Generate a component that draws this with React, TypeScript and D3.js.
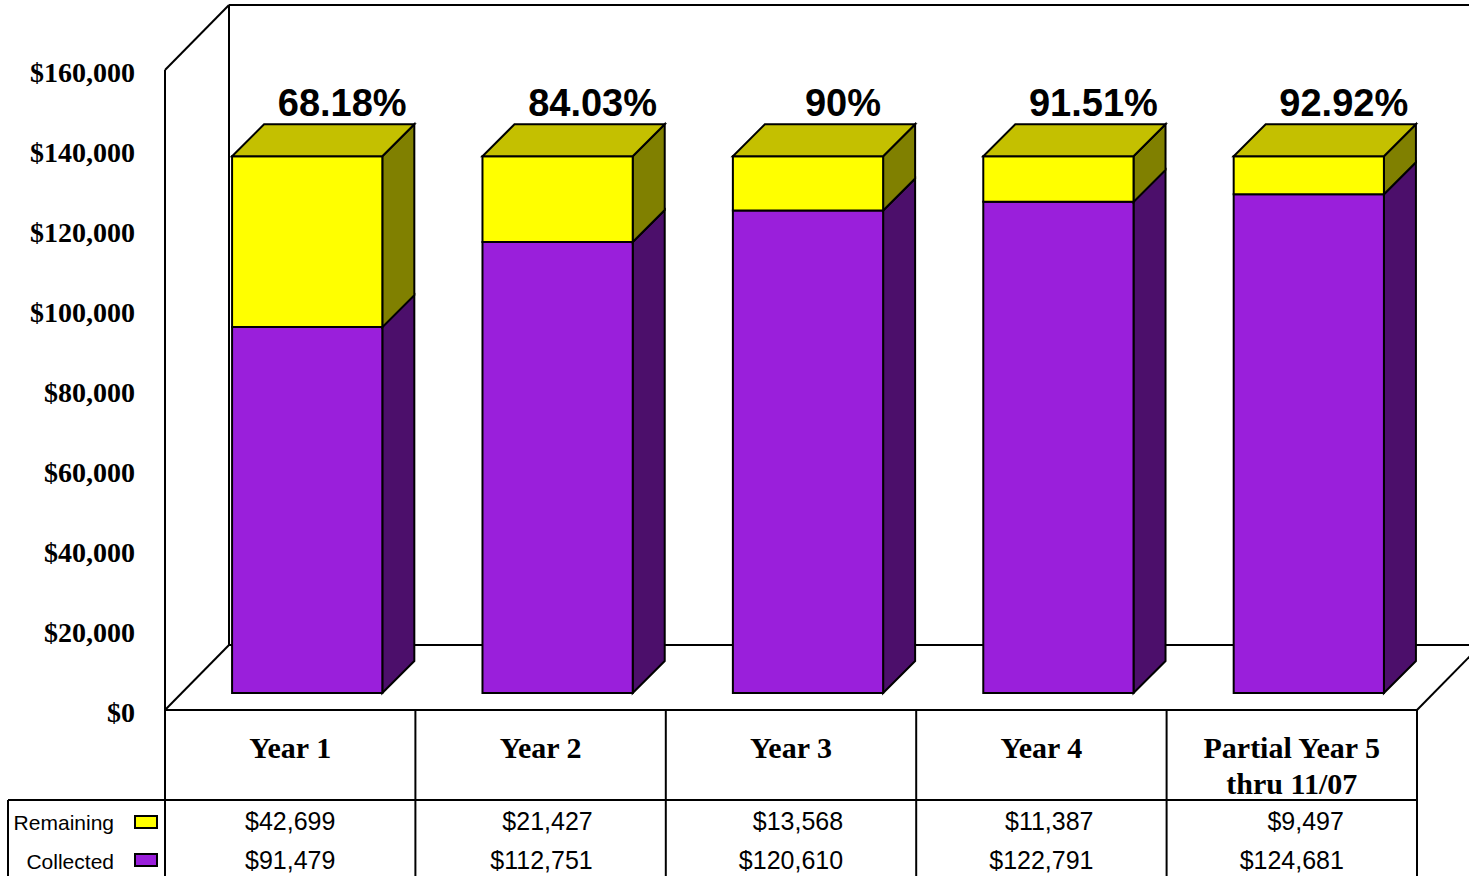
import React from "react";
import * as d3 from "d3";

const categories = ["Year 1", "Year 2", "Year 3", "Year 4", "Partial Year 5\nthru 11/07"];
const collected = [91479, 112751, 120610, 122791, 124681];
const remaining = [42699, 21427, 13568, 11387, 9497];
const pctLabels = ["68.18%", "84.03%", "90%", "91.51%", "92.92%"];
const yTicks = [0, 20000, 40000, 60000, 80000, 100000, 120000, 140000, 160000];
const seriesNames = ["Remaining", "Collected"];

const W = 1469;
const H = 876;
const X0 = 165;
const X1 = 1417;
const Y0 = 710;
const Y1 = 70;
const FLOOR_D = 64;
const BAR_D0 = 17;
const BAR_D1 = 49;

const COLORS = {
  Remaining: { front: "#FFFF00", top: "#C4C000", side: "#808000" },
  Collected: { front: "#9A1FDB", top: "#B060E0", side: "#4C0F6B" },
};

const serif = "'Liberation Serif', 'Times New Roman', serif";
const sans = "'Liberation Sans', Arial, sans-serif";

function estWidth(s: string, size: number) {
  let w = 0;
  for (const c of s) w += c === "," || c === "." ? 0.278 : 0.556;
  return w * size;
}

export default function App() {
  const y = d3.scaleLinear().domain([0, 160000]).range([Y0, Y1]);
  const xBar = d3
    .scaleBand<string>()
    .domain(categories)
    .range([X0, X1])
    .paddingInner(0.4)
    .paddingOuter(0.2);
  const xCol = d3.scaleBand<string>().domain(categories).range([X0, X1]).padding(0);
  const fmt = d3.format("$,.0f");

  const P = (x: number, v: number, d: number) => [x + d, y(v) - d] as [number, number];
  const poly = (pts: [number, number][]) => pts.map((p) => p.join(",")).join(" ");

  const bars: React.ReactNode[] = [];
  categories.forEach((c, i) => {
    const xl = xBar(c)!;
    const xr = xl + xBar.bandwidth();
    const segs = [
      { name: "Collected", v0: 0, v1: collected[i] },
      { name: "Remaining", v0: collected[i], v1: collected[i] + remaining[i] },
    ];
    segs.forEach((s, si) => {
      const col = (COLORS as any)[s.name];
      const front: [number, number][] = [
        P(xl, s.v0, BAR_D0),
        P(xr, s.v0, BAR_D0),
        P(xr, s.v1, BAR_D0),
        P(xl, s.v1, BAR_D0),
      ];
      const side: [number, number][] = [
        P(xr, s.v0, BAR_D0),
        P(xr, s.v0, BAR_D1),
        P(xr, s.v1, BAR_D1),
        P(xr, s.v1, BAR_D0),
      ];
      bars.push(
        <g key={`${i}-${si}`} stroke="#000" strokeWidth={2} strokeLinejoin="miter">
          <polygon points={poly(side)} fill={col.side} />
          <polygon points={poly(front)} fill={col.front} />
          {si === segs.length - 1 && (
            <polygon
              points={poly([
                P(xl, s.v1, BAR_D0),
                P(xr, s.v1, BAR_D0),
                P(xr, s.v1, BAR_D1),
                P(xl, s.v1, BAR_D1),
              ])}
              fill={col.top}
            />
          )}
        </g>
      );
    });
  });

  const backX = X0 + FLOOR_D;
  const backY = Y0 - FLOOR_D - 1;
  const topBack = y(160000) - FLOOR_D - 1;

  return (
    <svg
      width={W}
      height={H}
      style={{ position: "fixed", left: 0, top: 0, background: "#fff" }}
      viewBox={`0 0 ${W} ${H}`}
    >
      <rect x={0} y={0} width={W} height={H} fill="#fff" />
      {/* walls */}
      <g stroke="#000" strokeWidth={2} fill="none">
        <line x1={backX} y1={topBack} x2={W + 20} y2={topBack} />
        <line x1={backX} y1={topBack} x2={backX} y2={backY} />
        <line x1={X0} y1={y(160000)} x2={backX} y2={topBack} />
        <line x1={X0} y1={y(160000)} x2={X0} y2={Y0} />
        <line x1={X0} y1={Y0} x2={backX} y2={backY} />
        <line x1={backX} y1={backY} x2={W + 20} y2={backY} />
        <line x1={X1} y1={Y0} x2={X1 + FLOOR_D} y2={backY} />
      </g>
      {bars}
      {/* y axis labels */}
      <g fontFamily={serif} fontWeight="bold" fontSize={28} textAnchor="end">
        {yTicks.map((t) => (
          <text key={t} x={135} y={y(t) + 2} dy="0.35em">
            {fmt(t)}
          </text>
        ))}
      </g>
      {/* percent labels */}
      <g fontFamily={sans} fontWeight="bold" fontSize={38} textAnchor="middle">
        {categories.map((c, i) => (
          <text key={c} x={xBar(c)! + xBar.bandwidth() / 2 + 52} y={116}>
            {pctLabels[i]}
          </text>
        ))}
      </g>
      {/* data table */}
      <g stroke="#000" strokeWidth={2}>
        <line x1={X0} y1={Y0} x2={X1} y2={Y0} />
        <line x1={8} y1={800} x2={X1} y2={800} />
        <line x1={8} y1={800} x2={8} y2={H} />
        {categories.map((c) => (
          <line key={c} x1={xCol(c)!} y1={Y0} x2={xCol(c)!} y2={H} />
        ))}
        <line x1={X1} y1={Y0} x2={X1} y2={H} />
      </g>
      <g fontFamily={serif} fontWeight="bold" fontSize={30} textAnchor="middle">
        {categories.map((c) => {
          const lines = c.split("\n");
          const cx = xCol(c)! + xCol.bandwidth() / 2;
          return (
            <text key={c} x={cx} y={758}>
              {lines.map((l, li) => (
                <tspan key={li} x={cx} y={758 + li * 36}>
                  {l}
                </tspan>
              ))}
            </text>
          );
        })}
      </g>
      <g fontFamily={sans} fontSize={21} textAnchor="end">
        {seriesNames.map((n, ri) => (
          <g key={n}>
            <text x={114} y={830 + ri * 39}>
              {n}
            </text>
            <rect
              x={135}
              y={816 + ri * 38}
              width={22}
              height={12}
              fill={(COLORS as any)[n].front}
              stroke="#000"
              strokeWidth={2}
            />
          </g>
        ))}
      </g>
      <g fontFamily={sans} fontSize={25} textAnchor="end">
        {categories.map((c, i) => {
          const cx = xCol(c)! + xCol.bandwidth() / 2;
          const right = cx + estWidth(fmt(collected[i]), 25) / 2;
          return (
            <g key={c}>
              <text x={right} y={830}>
                {fmt(remaining[i])}
              </text>
              <text x={right} y={869}>
                {fmt(collected[i])}
              </text>
            </g>
          );
        })}
      </g>
    </svg>
  );
}
